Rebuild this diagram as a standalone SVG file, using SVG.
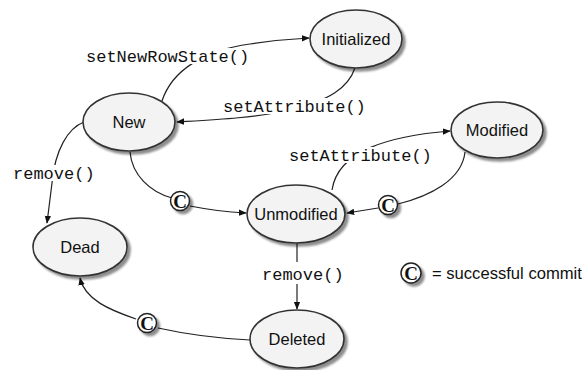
<svg xmlns="http://www.w3.org/2000/svg" width="584" height="370" viewBox="0 0 584 370">
<defs>
  <filter id="sh" x="-20%" y="-20%" width="150%" height="150%">
    <feGaussianBlur in="SourceAlpha" stdDeviation="1.2"/>
    <feOffset dx="2.5" dy="2.5" result="b"/>
    <feComponentTransfer><feFuncA type="linear" slope="0.45"/></feComponentTransfer>
    <feMerge><feMergeNode/><feMergeNode in="SourceGraphic"/></feMerge>
  </filter>
  <marker id="arr" viewBox="0 0 10 10" refX="9" refY="5" markerWidth="8" markerHeight="8" markerUnits="userSpaceOnUse" orient="auto">
    <path d="M0,1 L10,5 L0,9 z" fill="#111"/>
  </marker>
  <style>
    .st ellipse { fill: #f3f3f3; stroke: #333; stroke-width: 1.6; }
    .st text { font-family: "Liberation Sans", Arial, sans-serif; font-size: 16.5px; fill: #111; text-anchor: middle; }
    .cn path { fill: none; stroke: #222; stroke-width: 1.2; }
    .lbl { font-family: "Liberation Mono", "Courier New", monospace; font-size: 17px; fill: #111; }
    .cc circle { fill: #fff; stroke: #222; stroke-width: 1.5; }
    .cc text { font-family: "Liberation Serif", "Times New Roman", serif; font-weight: bold; font-size: 19px; fill: #111; text-anchor: middle; }
    .bg { fill: #fff; }
  </style>
</defs>
<rect width="584" height="370" fill="#fff"/>

<g id="connectors" class="cn">
  <path d="M162,101 C172,70 205,50 250,44 C270,41 290,39 309,38" marker-end="url(#arr)"/>
  <path d="M355,68 C348,88 330,100 290,110 C255,118 210,120 177,122" marker-end="url(#arr)"/>
  <path d="M84,122 C68,128 55,150 52,183 L47,223" marker-end="url(#arr)"/>
  <path d="M130,152 C132,175 150,192 172,198"/>
  <path d="M190,206 C210,210 228,212 246,213" marker-end="url(#arr)"/>
  <path d="M332,190 C338,150 390,136 450,131" marker-end="url(#arr)"/>
  <path d="M465,152 C462,180 430,196 398,204"/>
  <path d="M378,208 L347,213" marker-end="url(#arr)"/>
  <path d="M297,243 L297,309" marker-end="url(#arr)"/>
  <path d="M250,340 C210,338 185,334 158,328"/>
  <path d="M136,319 C110,310 85,300 80,278" marker-end="url(#arr)"/>
</g>

<g id="labels">
  <rect class="bg" x="84" y="48" width="172" height="16"/>
  <text class="lbl" x="86" y="62">setNewRowState()</text>
  <rect class="bg" x="221" y="98" width="148" height="16"/>
  <text class="lbl" x="223" y="112">setAttribute()</text>
  <rect class="bg" x="287" y="147" width="149" height="16"/>
  <text class="lbl" x="289" y="161">setAttribute()</text>
  <rect class="bg" x="11" y="165" width="84" height="16"/>
  <text class="lbl" x="13" y="179">remove()</text>
  <rect class="bg" x="260" y="262" width="84" height="22"/>
  <text class="lbl" x="262" y="280">remove()</text>
</g>

<g id="node-new" class="st"><ellipse cx="129" cy="122" rx="46" ry="29" filter="url(#sh)"/><text x="129" y="128">New</text></g>
<g id="node-initialized" class="st"><ellipse cx="356" cy="39" rx="46" ry="29" filter="url(#sh)"/><text x="356" y="45">Initialized</text></g>
<g id="node-modified" class="st"><ellipse cx="497" cy="130" rx="46" ry="28" filter="url(#sh)"/><text x="497" y="136">Modified</text></g>
<g id="node-unmodified" class="st"><ellipse cx="296" cy="214" rx="49" ry="29" filter="url(#sh)"/><text x="296" y="220">Unmodified</text></g>
<g id="node-dead" class="st"><ellipse cx="80" cy="247" rx="47" ry="29" filter="url(#sh)"/><text x="80" y="253">Dead</text></g>
<g id="node-deleted" class="st"><ellipse cx="297" cy="339" rx="47" ry="29" filter="url(#sh)"/><text x="297" y="345">Deleted</text></g>

<g id="commit-1" class="cc"><circle cx="180" cy="201" r="9.5" filter="url(#sh)"/><text x="180" y="207.5">C</text></g>
<g id="commit-2" class="cc"><circle cx="388" cy="205" r="9.5" filter="url(#sh)"/><text x="388" y="211.5">C</text></g>
<g id="commit-3" class="cc"><circle cx="147" cy="323" r="9.5" filter="url(#sh)"/><text x="147" y="329.5">C</text></g>

<g id="legend">
  <g class="cc"><circle cx="411" cy="273" r="10" filter="url(#sh)"/><text x="411" y="279.5">C</text></g>
  <text x="432" y="279" font-family="Liberation Sans, Arial, sans-serif" font-size="16.6px" fill="#111">= successful commit</text>
</g>
</svg>
